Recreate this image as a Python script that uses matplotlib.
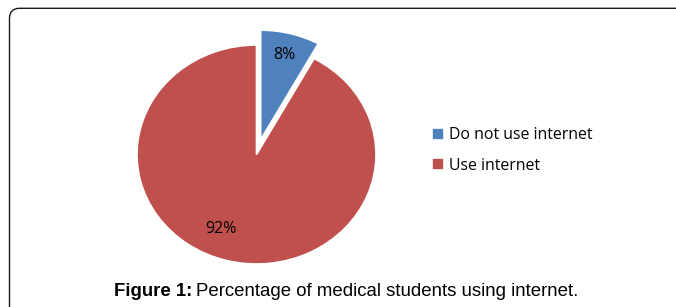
#!/usr/bin/env python3
"""Pie chart: share of medical students using the internet."""

import matplotlib

matplotlib.use("Agg")

import matplotlib.pyplot as plt
from matplotlib.patches import FancyBboxPatch

LABELS = ["Do not use internet", "Use internet"]
SHARES = [8, 92]
COLORS = ["#4F81BD", "#C0504D"]
EXPLODE = [0.14, 0.0]


def main():
    fig = plt.figure(figsize=(6.76, 3.07), dpi=100)
    W, H = 676, 307

    # outer rounded frame (cropped at right and bottom)
    frame = FancyBboxPatch(
        (0.095, -0.6), 7.5, 3.07 - 0.083 + 0.6,
        boxstyle="round,pad=0,rounding_size=0.1",
        transform=fig.dpi_scale_trans, facecolor="none",
        edgecolor="#1a1a1a", linewidth=1.0, clip_on=False,
    )
    fig.patches.append(frame)

    # pie axes placed over the (slightly stretched) ellipse
    ax = fig.add_axes([137 / W, 43 / H, 239 / W, 219 / H])
    wedges, texts, autotexts = ax.pie(
        SHARES,
        colors=COLORS,
        explode=EXPLODE,
        startangle=90,
        counterclock=False,
        autopct="%d%%",
        pctdistance=0.8,
        wedgeprops={"edgecolor": "white", "linewidth": 1.2},
        textprops={"fontsize": 11.5, "family": "Open Sans", "color": "black"},
    )
    autotexts[1].set_position((-0.30, -0.68))
    ax.set_aspect("auto")
    ax.set_xlim(-1, 1)
    ax.set_ylim(-1, 1)
    ax.axis("off")
    for w in wedges:
        w.set_clip_on(False)

    fig.legend(
        wedges, LABELS,
        loc="center left", bbox_to_anchor=(424 / W, 1 - 150.5 / H),
        frameon=False, prop={"family": "Open Sans", "size": 11.4},
        handlelength=0.75, handleheight=0.75, handletextpad=0.3,
        labelspacing=0.9, borderpad=0,
    )

    # caption: bold lead + regular text
    renderer = fig.canvas.get_renderer()
    y = 1 - 292 / H
    t1 = fig.text(114 / W, y, "Figure 1:", fontsize=13.4, fontweight="bold",
                  family="Liberation Sans", va="center", ha="left")
    bb = t1.get_window_extent(renderer)
    fig.text(bb.x1 / W + 4 / W, y, "Percentage of medical students using internet.",
             fontsize=13.4, family="Liberation Sans", va="center", ha="left")

    fig.savefig("out.png", dpi=100)


if __name__ == "__main__":
    main()
